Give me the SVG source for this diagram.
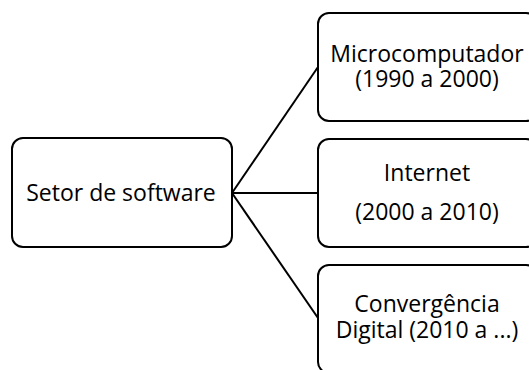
<svg xmlns="http://www.w3.org/2000/svg" width="529" height="370" viewBox="0 0 529 370">
<style>
.box{fill:#fff;stroke:#000;stroke-width:2}
.t{font-family:"Open Sans","Liberation Sans",sans-serif;font-size:23px;fill:#000;text-anchor:middle}
.c{stroke:#000;stroke-width:2;fill:none}
</style>
<rect width="529" height="370" fill="#fff"/>
<g id="connectors">
<line class="c" x1="232" y1="193" x2="318" y2="67"/>
<line class="c" x1="232" y1="193" x2="318" y2="193"/>
<line class="c" x1="232" y1="193" x2="318" y2="318"/>
</g>
<g id="setor">
<rect class="box" x="12" y="138" width="220" height="109" rx="11"/>
<text class="t" x="121" y="201">Setor de software</text>
</g>
<g id="micro">
<rect class="box" x="318" y="13" width="219" height="108" rx="11"/>
<text class="t" x="427" y="62">Microcomputador</text>
<text class="t" x="427" y="87">(1990 a 2000)</text>
</g>
<g id="internet">
<rect class="box" x="318" y="139" width="219" height="108" rx="11"/>
<text class="t" x="427" y="181">Internet</text>
<text class="t" x="427" y="220">(2000 a 2010)</text>
</g>
<g id="conv">
<rect class="box" x="318" y="265" width="219" height="108" rx="11"/>
<text class="t" x="427" y="312">Convergência</text>
<text class="t" x="427" y="338">Digital (2010 a ...)</text>
</g>
</svg>
